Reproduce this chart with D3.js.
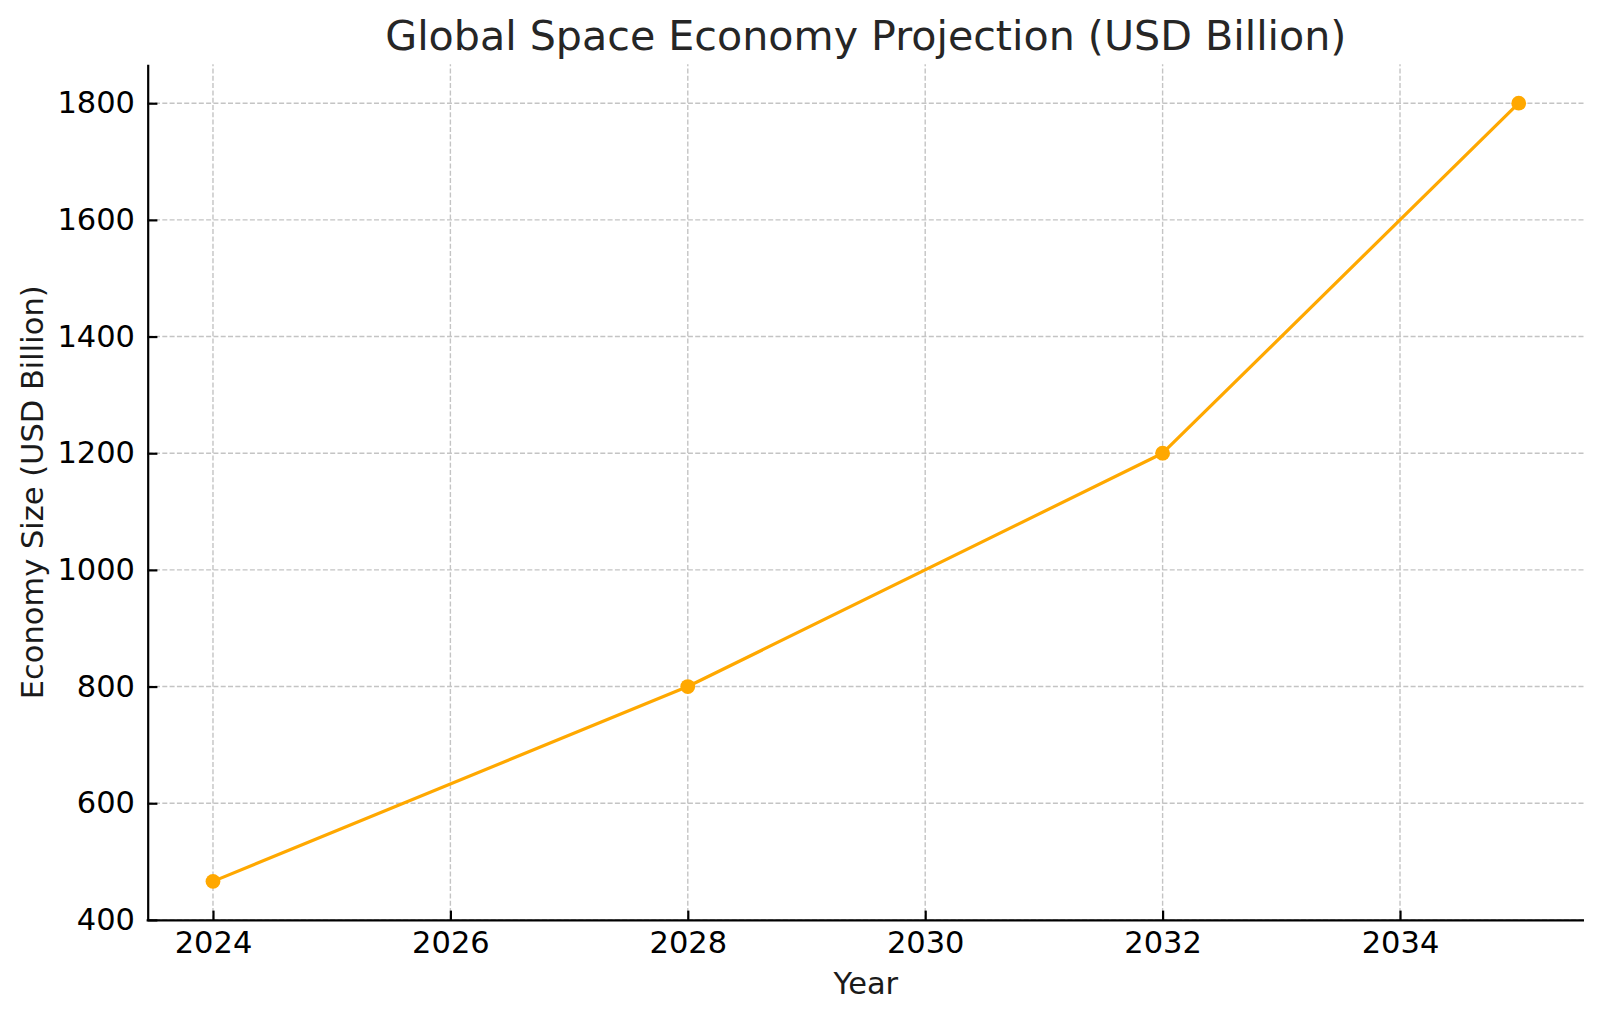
<!DOCTYPE html>
<html>
<head>
<meta charset="utf-8">
<script src="https://cdn.jsdelivr.net/npm/d3@7"></script>
<style>
  html, body { margin: 0; padding: 0; background: #fff; }
  svg { display: block; font-family: "DejaVu Sans", sans-serif; }
</style>
</head>
<body>
<svg id="chart" width="1600" height="1019"></svg>
<script>
const years = [2024, 2028, 2032, 2035];
const economySize = [466, 800, 1200, 1800];
const xTicks = [2024, 2026, 2028, 2030, 2032, 2034];
const yTicks = [400, 600, 800, 1000, 1200, 1400, 1600, 1800];

const W = 1600, H = 1019;
const margin = { left: 147.7, right: W - 1584, top: 64.3, bottom: H - 920.3 };
const tickFont = 30.5;

const svg = d3.select('#chart');

const x = d3.scaleLinear()
  .domain([2023.45, 2035.55])
  .range([margin.left, W - margin.right]);

const y = d3.scaleLinear()
  .domain([399.3, 1866.7])
  .range([H - margin.bottom, margin.top]);

// grid lines
const grid = svg.append('g').attr('class', 'grid')
  .attr('stroke', '#c4c4c4')
  .attr('stroke-width', 1.4)
  .attr('stroke-dasharray', '5,2.3');

grid.selectAll('line.vx')
  .data(xTicks)
  .join('line')
  .attr('class', 'vx')
  .attr('x1', d => x(d)).attr('x2', d => x(d))
  .attr('y1', y.range()[0]).attr('y2', y.range()[1]);

grid.selectAll('line.hy')
  .data(yTicks)
  .join('line')
  .attr('class', 'hy')
  .attr('x1', x.range()[0]).attr('x2', x.range()[1])
  .attr('y1', d => y(d)).attr('y2', d => y(d));

// axes: ticks point inward, only left and bottom spines
const xAxis = d3.axisBottom(x)
  .tickValues(xTicks)
  .tickFormat(d3.format('d'))
  .tickSizeInner(-9.7)
  .tickSizeOuter(0)
  .tickPadding(11);

const yAxis = d3.axisLeft(y)
  .tickValues(yTicks)
  .tickFormat(d3.format('d'))
  .tickSizeInner(-9.7)
  .tickSizeOuter(0)
  .tickPadding(12.7);

const gx = svg.append('g')
  .attr('transform', `translate(0,${y.range()[0]})`)
  .call(xAxis);

const gy = svg.append('g')
  .attr('transform', `translate(${x.range()[0]},0)`)
  .call(yAxis);

[gx, gy].forEach(g => {
  g.select('.domain').attr('stroke', '#000').attr('stroke-width', 2.2);
  g.selectAll('.tick line').attr('stroke', '#000').attr('stroke-width', 2.2);
  g.selectAll('.tick text')
    .attr('fill', '#000')
    .style('font-family', '"DejaVu Sans", sans-serif')
    .style('font-size', tickFont + 'px');
});

// extend the spine a little so the corner is square
gx.select('.domain').attr('d', `M${x.range()[0] - 1.1},0H${x.range()[1]}`);

// the series
const points = years.map((yr, i) => ({ yr: yr, v: economySize[i] }));

svg.append('path')
  .datum(points)
  .attr('fill', 'none')
  .attr('stroke', '#ffa800')
  .attr('stroke-width', 3.2)
  .attr('stroke-linejoin', 'round')
  .attr('d', d3.line().x(d => x(d.yr)).y(d => y(d.v)));

svg.selectAll('circle.pt')
  .data(points)
  .join('circle')
  .attr('class', 'pt')
  .attr('cx', d => x(d.yr))
  .attr('cy', d => y(d.v))
  .attr('r', 7.4)
  .attr('fill', '#ffa800');

// titles
svg.append('text')
  .attr('x', (x.range()[0] + x.range()[1]) / 2)
  .attr('y', 50)
  .attr('text-anchor', 'middle')
  .attr('fill', '#262626')
  .style('font-size', '41.2px')
  .text('Global Space Economy Projection (USD Billion)');

svg.append('text')
  .attr('x', (x.range()[0] + x.range()[1]) / 2)
  .attr('y', 994)
  .attr('text-anchor', 'middle')
  .attr('fill', '#1a1a1a')
  .style('font-size', '30.5px')
  .text('Year');

svg.append('text')
  .attr('transform', `translate(43,${(y.range()[0] + y.range()[1]) / 2}) rotate(-90)`)
  .attr('text-anchor', 'middle')
  .attr('fill', '#1a1a1a')
  .style('font-size', '30.5px')
  .text('Economy Size (USD Billion)');
</script>
</body>
</html>
